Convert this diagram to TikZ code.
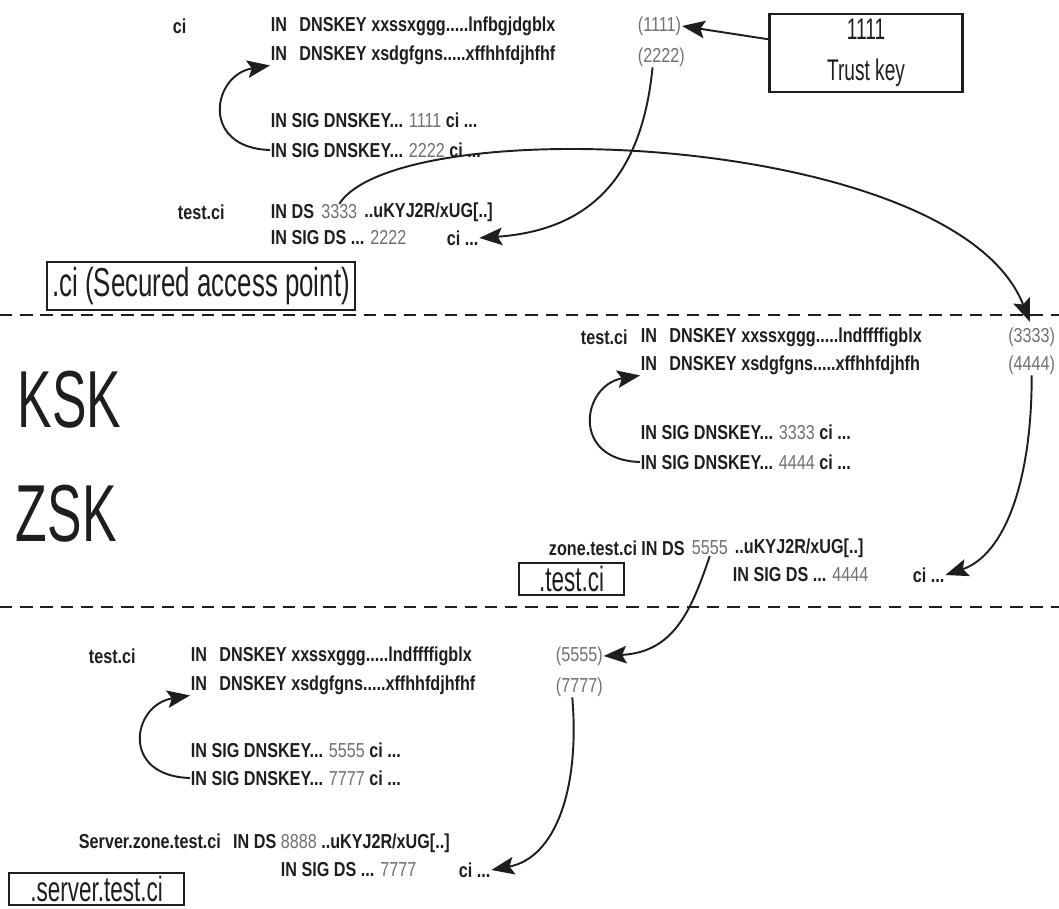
\documentclass[tikz,border=0pt]{standalone}
\usepackage{fontspec}
\setmainfont{Liberation Sans}
\newfontfamily\narrowfont[FakeStretch=0.8]{Liberation Sans}
\newfontfamily\condfont[FakeStretch=0.64]{Liberation Sans}
\usetikzlibrary{arrows.meta, positioning}
\definecolor{cink}{HTML}{1E1E1E}
\definecolor{cnum}{HTML}{707070}
\tikzset{
  every picture/.style={line width=1.1pt, draw=cink, text=cink},
  rec/.style={anchor=west, inner sep=0pt, font=\narrowfont\bfseries\fontsize{11.5}{14}\selectfont},
  num/.style={anchor=west, inner sep=0pt, text=cnum, font=\narrowfont\fontsize{11.5}{14}\selectfont},
  tag/.style={draw, anchor=west, inner sep=2pt, line width=1.2pt, minimum height=0.56cm, font=\condfont\fontsize{20}{20}\selectfont},
  bigtag/.style={tag, inner sep=3pt, minimum height=0.76cm, font=\condfont\fontsize{23}{23}\selectfont},
  trustbox/.style={draw, line width=1.2pt, align=center, minimum width=3.86cm, minimum height=1.56cm, font=\condfont\fontsize{17}{23}\selectfont},
  keylabel/.style={anchor=west, inner sep=0pt, font=\condfont\fontsize{46}{46}\selectfont},
  arr/.style={-{Stealth[length=13pt, width=10pt, inset=2.5pt]}, line width=1.1pt},
  sep/.style={dash pattern=on 7pt off 4.5pt, line width=1pt},
}
\newcommand{\gap}{\hspace{7pt}}
\newcommand{\nm}[1]{{\mdseries\color{cnum}#1}}
\begin{document}
\begin{tikzpicture}[x=0.02cm, y=-0.02cm]
  \useasboundingbox (0,0) rectangle (1059,909);

  % .ci
  \node[rec] (ciA) at (172,26) {ci};
  \node[rec] (keyA1) at (270,26) {IN\gap DNSKEY xxssxggg.....lnfbgjdgblx};
  \node[num] (idA1) at (637,26) {(1111)};
  \node[rec] (keyA2) at (270,55) {IN\gap DNSKEY xsdgfgns.....xffhhfdjhfhf};
  \node[num] (idA2) at (637,57) {(2222)};
  \node[trustbox] (trust) at (866,53) {1111\\Trust key};
  \node[rec] (sigA1) at (270,120) {IN SIG DNSKEY... \nm{1111} ci ...};
  \node[rec] (sigA2) at (270,150) {IN SIG DNSKEY... \nm{2222} ci ...};
  \node[rec] (zoneA) at (177,212) {test.ci};
  \node[rec] (dsA) at (270,212) {IN DS};
  \node[num, right=3pt of dsA] (dsnumA) {3333};
  \node[rec, right=3pt of dsnumA] (hashA) {..uKYJ2R/xUG[..]};
  \node[rec] (sigdsA) at (270,238) {IN SIG DS ... \nm{2222}};
  \node[rec] (cidsA) at (446,238) {ci ...};
  \node[bigtag] (tagA) at (46,286) {.ci (Secured access point)};
  \draw[arr] (trust.172) -- (idA1.east);
  \draw[arr] (sigA2.west) .. controls (200,148) and (212,75) .. (keyA2.south west);
  \draw[arr] ([xshift=-5pt]idA2.south) .. controls (642,175) and (592,230) .. (cidsA.east);

  \draw[sep] (0,315) -- (1059,315);

  % .test.ci
  \node[keylabel] (ksk) at (17,400) {KSK};
  \node[keylabel] (zsk) at (15,514) {ZSK};
  \node[rec] (zoneB) at (580,337) {test.ci};
  \node[rec] (keyB1) at (640,337) {IN\gap DNSKEY xxssxggg.....lndffffigblx};
  \node[num, anchor=east] (idB1) at (1056,337) {(3333)};
  \node[rec] (keyB2) at (640,365) {IN\gap DNSKEY xsdgfgns.....xffhhfdjhfh};
  \node[num, anchor=east] (idB2) at (1056,365) {(4444)};
  \node[rec] (sigB1) at (640,432) {IN SIG DNSKEY... \nm{3333} ci ...};
  \node[rec] (sigB2) at (640,462) {IN SIG DNSKEY... \nm{4444} ci ...};
  \node[rec] (dsB) at (548,548) {zone.test.ci IN DS};
  \node[num, right=3pt of dsB] (dsnumB) {5555};
  \node[rec, right=3pt of dsnumB] (hashB) {..uKYJ2R/xUG[..]};
  \node[rec] (sigdsB) at (732,575) {IN SIG DS ... \nm{4444}};
  \node[rec] (cidsB) at (912,575) {ci ...};
  \node[tag, minimum width=2.1cm] (tagB) at (518,579) {.test.ci};
  \draw[arr, shorten >=3pt] (dsnumA.north) .. controls (400,110) and (956,132) .. (idB1.north);
  \draw[arr] (sigB2.west) .. controls (570,460) and (582,385) .. (keyB2.south west);
  \draw[arr] (idB2.south) .. controls (1032,480) and (1005,555) .. (cidsB.east);

  \draw[sep] (0,607) -- (1059,607);

  % .server.test.ci
  \node[rec] (zoneC) at (88,656) {test.ci};
  \node[rec] (keyC1) at (190,656) {IN\gap DNSKEY xxssxggg.....lndffffigblx};
  \node[num] (idC1) at (555,656) {(5555)};
  \node[rec] (keyC2) at (190,685) {IN\gap DNSKEY xsdgfgns.....xffhhfdjhfhf};
  \node[num] (idC2) at (555,687) {(7777)};
  \node[rec] (sigC1) at (190,750) {IN SIG DNSKEY... \nm{5555} ci ...};
  \node[rec] (sigC2) at (190,778) {IN SIG DNSKEY... \nm{7777} ci ...};
  \node[rec] (dsC) at (78,843) {Server.zone.test.ci\gap IN DS \nm{8888} ..uKYJ2R/xUG[..]};
  \node[rec] (sigdsC) at (280,870) {IN SIG DS ... \nm{7777}};
  \node[rec] (cidsC) at (458,870) {ci ...};
  \node[tag, minimum width=3.5cm] (tagC) at (8,889) {.server.test.ci};
  \draw[arr] (dsnumB.south) .. controls (690,615) and (672,652) .. (idC1.east);
  \draw[arr] (sigC2.west) .. controls (120,776) and (132,705) .. (keyC2.south west);
  \draw[arr] ([xshift=-4pt]idC2.south) .. controls (580,790) and (555,858) .. (cidsC.east);
\end{tikzpicture}
\end{document}
